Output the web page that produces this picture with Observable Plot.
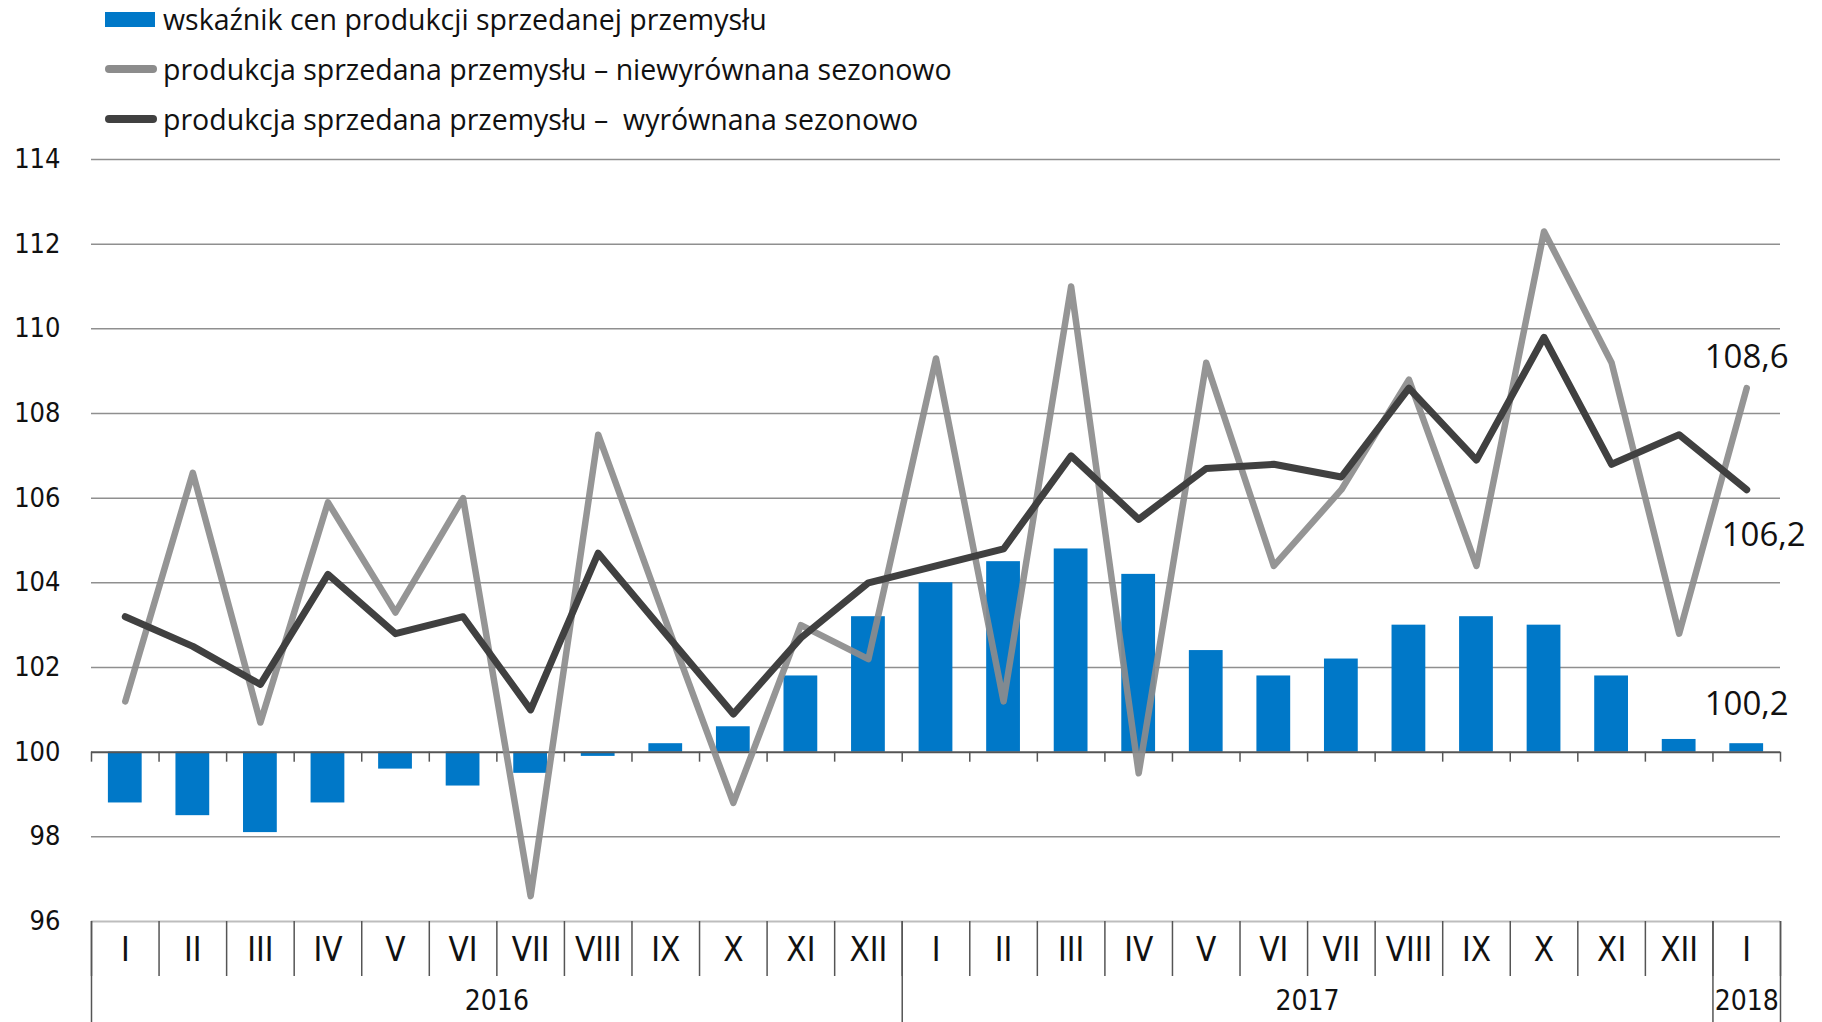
<!DOCTYPE html>
<html>
<head>
<meta charset="utf-8">
<script src="https://cdn.jsdelivr.net/npm/d3@7"></script>
<script src="https://cdn.jsdelivr.net/npm/@observablehq/plot@0.6"></script>
<style>
  html, body { margin: 0; padding: 0; background: #fff; }
  #legend { position: relative; width: 1822px; height: 140px; font-family: "Open Sans", "Noto Sans", sans-serif; font-size: 28.5px; color: #111; }
  .item { position: absolute; left: 0; height: 40px; }
  .sw { position: absolute; left: 105px; }
  .lt { position: absolute; left: 163px; top: 0; line-height: 40px; white-space: pre; }
  #chart svg { display: block; overflow: visible; }
</style>
</head>
<body>
<div id="legend"></div>
<div id="chart"></div>
<script>
// ---- data ----
const months = ["I","II","III","IV","V","VI","VII","VIII","IX","X","XI","XII",
                "I","II","III","IV","V","VI","VII","VIII","IX","X","XI","XII",
                "I"];
const years = [2016,2016,2016,2016,2016,2016,2016,2016,2016,2016,2016,2016,
               2017,2017,2017,2017,2017,2017,2017,2017,2017,2017,2017,2017,
               2018];
// wskaźnik cen produkcji sprzedanej przemysłu
const priceIndex = [98.8, 98.5, 98.1, 98.8, 99.6, 99.2, 99.5, 99.9, 100.2, 100.6, 101.8, 103.2,
                    104.0, 104.5, 104.8, 104.2, 102.4, 101.8, 102.2, 103.0, 103.2, 103.0, 101.8, 100.3,
                    100.2];
// produkcja sprzedana przemysłu – niewyrównana sezonowo
const unadjusted = [101.2, 106.6, 100.7, 105.9, 103.3, 106.0, 96.6, 107.5, 103.1, 98.8, 103.0, 102.2,
                    109.3, 101.2, 111.0, 99.5, 109.2, 104.4, 106.2, 108.8, 104.4, 112.3, 109.2, 102.8,
                    108.6];
// produkcja sprzedana przemysłu – wyrównana sezonowo
const adjusted = [103.2, 102.5, 101.6, 104.2, 102.8, 103.2, 101.0, 104.7, 102.8, 100.9, 102.7, 104.0,
                  104.4, 104.8, 107.0, 105.5, 106.7, 106.8, 106.5, 108.6, 106.9, 109.8, 106.8, 107.5,
                  106.2];
const yTicks = [96, 98, 100, 102, 104, 106, 108, 110, 112, 114];
const seriesNames = [
  "wskaźnik cen produkcji sprzedanej przemysłu",
  "produkcja sprzedana przemysłu – niewyrównana sezonowo",
  "produkcja sprzedana przemysłu –  wyrównana sezonowo"
];
const seriesColors = ["#0078C8", "#8c8c8c", "#404040"];

// ---- legend ----
const legend = document.getElementById("legend");
const centers = [19, 69, 119];
seriesNames.forEach((name, k) => {
  const it = document.createElement("div");
  it.className = "item";
  it.style.top = (centers[k] - 20) + "px";
  const sw = document.createElement("div");
  sw.className = "sw";
  if (k === 0) {
    sw.style.cssText += `top:13px;width:50px;height:15px;background:${seriesColors[k]};`;
  } else {
    sw.style.cssText += `top:16px;width:52px;height:8px;border-radius:4px;background:${seriesColors[k]};`;
  }
  const t = document.createElement("div");
  t.className = "lt";
  t.textContent = name;
  it.appendChild(sw); it.appendChild(t);
  legend.appendChild(it);
});

// ---- table ----
const rows = months.map((m, i) => ({i, month: m, year: years[i], price: priceIndex[i], unadj: unadjusted[i], adj: adjusted[i]}));
const n = rows.length;
const boundaries = d3.range(0, n + 1);
const yearList = Array.from(new Set(years));
const yearGroups = yearList.map(y => {
  const idx = rows.filter(r => r.year === y).map(r => r.i);
  return {year: String(y), start: d3.min(idx), end: d3.max(idx) + 1};
});
const yearBoundaries = [0, ...yearGroups.map(g => g.end)];
const last = rows[n - 1];
const fmt = v => v.toFixed(1).replace(".", ",");

const narrow = "'DejaVu Sans Condensed', 'Open Sans', sans-serif";
const wide = "'Open Sans', 'Noto Sans', sans-serif";

const chart = Plot.plot({
  width: 1822,
  height: 882,
  marginLeft: 91,
  marginRight: 42,
  marginTop: 19,
  marginBottom: 101,
  x: {domain: [0, n], axis: null},
  y: {domain: [96, 114], ticks: yTicks, tickSize: 0, tickPadding: 31, label: null, tickFormat: d => String(d)},
  style: {fontFamily: narrow, fontSize: "27px", color: "#111", background: "transparent", overflow: "visible"},
  marks: [
    Plot.ruleY(yTicks.filter(v => v !== 100 && v !== 96), {stroke: "#8f8f8f", strokeWidth: 1.5}),
    Plot.ruleY([96], {stroke: "#bdbdbd", strokeWidth: 2}),
    Plot.rectY(rows, {x1: d => d.i + 0.25, x2: d => d.i + 0.75, y1: 100, y2: "price", fill: seriesColors[0]}),
    Plot.ruleY([100], {stroke: "#555", strokeWidth: 2}),
    Plot.ruleX(boundaries, {x: d => d, y1: 100, y2: 100, insetBottom: -10, stroke: "#555", strokeWidth: 1.5}),
    Plot.ruleX(boundaries, {x: d => d, y1: 96, y2: 96, insetBottom: -55, stroke: "#555", strokeWidth: 1.5}),
    Plot.ruleX(yearBoundaries, {x: d => d, y1: 96, y2: 96, insetBottom: -101, stroke: "#555", strokeWidth: 1.5}),
    Plot.line(rows, {x: d => d.i + 0.5, y: "unadj", stroke: seriesColors[1], strokeWidth: 6.5, strokeOpacity: 0.92, strokeLinejoin: "round", strokeLinecap: "round"}),
    Plot.line(rows, {x: d => d.i + 0.5, y: "adj", stroke: seriesColors[2], strokeWidth: 7, strokeLinejoin: "round", strokeLinecap: "round"}),
    Plot.text(rows, {x: d => d.i + 0.5, y: 96, text: "month", dy: 29, fontSize: 33, fontFamily: narrow, fill: "#111"}),
    Plot.text(yearGroups, {x: d => (d.start + d.end) / 2, y: 96, text: "year", dy: 80, fontSize: 28, fontFamily: narrow, fill: "#111"}),
    Plot.text([last], {x: d => d.i + 0.5, y: "unadj", text: d => fmt(d.unadj), dy: -31, fontSize: 33, fontFamily: wide, fill: "#111"}),
    Plot.text([last], {x: d => d.i + 0.5, y: "adj", text: d => fmt(d.adj), dy: 46, dx: 17, fontSize: 33, fontFamily: wide, fill: "#111"}),
    Plot.text([last], {x: d => d.i + 0.5, y: "price", text: d => fmt(d.price), dy: -39, fontSize: 33, fontFamily: wide, fill: "#111"})
  ]
});
document.getElementById("chart").appendChild(chart);
</script>
</body>
</html>
